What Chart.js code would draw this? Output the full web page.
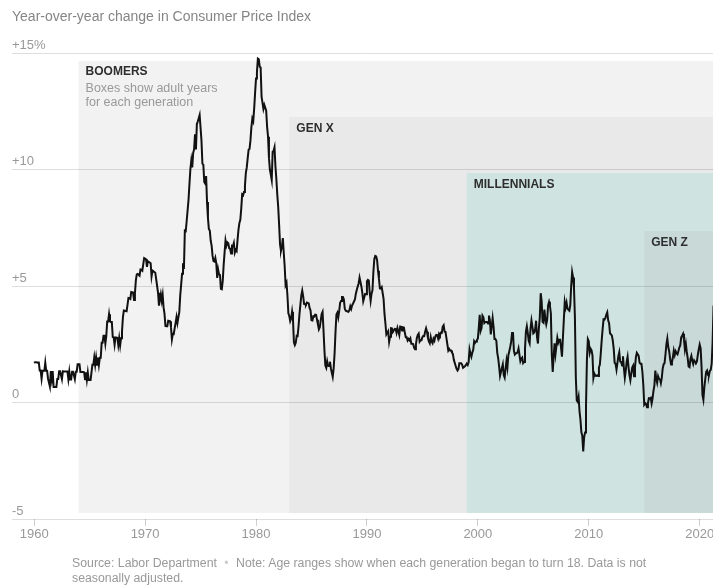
<!DOCTYPE html>
<html>
<head>
<meta charset="utf-8">
<script src="https://cdn.jsdelivr.net/npm/chart.js@4"></script>
<style>
  body { margin: 0; background: #fff; }
  #wrap { position: relative; width: 713px; height: 588px; overflow: hidden; }
  #cpi-chart { position: absolute; left: 0; top: 0; }
  .title { position: absolute; left: 12px; top: 8px; font: 14px "Liberation Sans", Arial, sans-serif; color: #858585; white-space: nowrap; }
  .note { position: absolute; left: 72px; top: 556px; font: 12.3px/15px "Liberation Sans", Arial, sans-serif; color: #999; white-space: nowrap; }
  .note .dot { color: #ccc; padding: 0 4px; }
</style>
</head>
<body>
<div id="wrap">
  <canvas id="cpi-chart" width="713" height="588"></canvas>
  <div class="title">Year-over-year change in Consumer Price Index</div>
  <div class="note">Source: Labor Department <span class="dot">•</span> Note: Age ranges show when each generation began to turn 18. Data is not<br>seasonally adjusted.</div>
</div>
<script>
// Monthly year-over-year CPI change (%), starting January 1960
const startYear = 1960;
const cpi1960s = [
  1.7, 1.73, 1.73, 1.72, 1.72, 1.72, 1.37, 1.37, 1.02, 1.36, 1.36, 1.36,
  1.71, 1.36, 1.36, 1.02, 1.02, 0.68, 1.35, 1.01, 1.35, 0.67, 0.67, 0.67,
  0.67, 1.01, 1.01, 1.34, 1.34, 1.34, 1.0, 1.34, 1.33, 1.33, 1.33, 1.33,
  1.33, 1.0, 1.33, 0.99, 0.99, 1.32, 1.32, 1.32, 1.0, 1.32, 1.32, 1.64,
  1.64, 1.64, 1.31, 1.31, 1.31, 1.31, 1.3, 1.0, 1.3, 0.97, 1.29, 0.97,
  0.97, 0.97, 1.29, 1.62, 1.62, 1.94, 1.62, 1.94, 1.62, 1.93, 1.61, 1.92,
  1.92, 2.56, 2.56, 2.87, 2.87, 2.53, 2.85, 3.48, 3.48, 3.79, 3.48, 3.46,
  3.46, 2.81, 2.8, 2.48, 2.79, 2.79, 2.77, 2.46, 2.77, 2.45, 2.76, 3.04,
  3.65, 3.95, 3.94, 3.93, 3.92, 4.2, 4.49, 4.48, 4.45, 4.74, 4.73, 4.72,
  4.4, 4.7, 5.24, 5.5, 5.52, 5.48, 5.44, 5.71, 5.7, 5.66, 5.93, 6.2
];
const cpi1970s = [
  6.18, 6.15, 5.82, 6.06, 6.04, 6.01, 5.98, 5.41, 5.66, 5.63, 5.6, 5.57,
  5.29, 5.0, 4.71, 4.16, 4.4, 4.64, 4.36, 4.62, 4.08, 3.8, 3.28, 3.27,
  3.27, 3.51, 3.5, 3.49, 3.23, 2.71, 2.95, 2.94, 3.19, 3.42, 3.67, 3.41,
  3.65, 3.88, 4.59, 5.06, 5.53, 5.98, 5.73, 7.38, 7.36, 7.8, 8.25, 8.71,
  9.39, 10.02, 10.39, 10.09, 10.71, 10.86, 11.51, 10.86, 11.95, 12.06, 12.2, 12.34,
  11.8, 11.23, 10.25, 10.21, 9.47, 9.4, 9.72, 8.6, 7.91, 7.44, 7.38, 6.94,
  6.72, 6.29, 6.07, 6.05, 6.2, 5.97, 5.35, 5.71, 5.5, 5.48, 4.88, 4.86,
  5.22, 5.91, 6.44, 6.95, 6.73, 6.87, 6.83, 6.62, 6.6, 6.39, 6.72, 6.7,
  6.84, 6.43, 6.55, 6.5, 6.97, 7.41, 7.7, 7.84, 8.31, 8.93, 8.89, 9.03,
  9.28, 9.86, 10.09, 10.49, 10.85, 10.89, 11.26, 11.82, 12.18, 12.07, 12.61, 13.29
];
const cpi1980s = [
  13.91, 14.18, 14.76, 14.73, 14.41, 14.38, 13.13, 12.87, 12.6, 12.77, 12.65, 12.52,
  11.83, 11.41, 10.49, 10.0, 9.78, 9.55, 10.76, 10.8, 10.95, 10.14, 9.59, 8.92,
  8.39, 7.62, 6.78, 6.51, 6.68, 7.06, 6.44, 5.85, 5.04, 5.14, 4.59, 3.83,
  3.71, 3.49, 3.6, 3.9, 3.55, 2.58, 2.46, 2.56, 2.86, 2.85, 3.27, 3.79,
  4.19, 4.6, 4.8, 4.56, 4.23, 4.22, 4.2, 4.29, 4.27, 4.26, 4.05, 3.95,
  3.53, 3.52, 3.7, 3.69, 3.77, 3.76, 3.55, 3.35, 3.14, 3.23, 3.51, 3.8,
  3.89, 3.11, 2.26, 1.59, 1.49, 1.77, 1.58, 1.57, 1.75, 1.47, 1.28, 1.1,
  1.46, 2.1, 3.03, 3.78, 3.86, 3.65, 3.93, 4.28, 4.36, 4.53, 4.53, 4.43,
  4.03, 3.94, 3.93, 3.9, 3.89, 3.96, 4.13, 4.02, 4.17, 4.25, 4.25, 4.42,
  4.67, 4.83, 4.98, 5.11, 5.36, 5.17, 4.98, 4.71, 4.34, 4.49, 4.66, 4.65
];
const cpi1990s = [
  5.2, 5.26, 5.23, 4.71, 4.36, 4.67, 4.82, 5.62, 6.16, 6.29, 6.27, 6.11,
  5.65, 5.31, 4.9, 4.89, 4.95, 4.7, 4.45, 3.8, 3.39, 2.92, 2.99, 3.06,
  2.6, 2.82, 3.19, 3.18, 3.02, 3.09, 3.16, 3.15, 2.99, 3.2, 3.05, 2.9,
  3.26, 3.25, 3.09, 3.23, 3.22, 3.0, 2.8, 2.8, 2.66, 2.73, 2.67, 2.75,
  2.52, 2.52, 2.51, 2.36, 2.29, 2.49, 2.77, 2.9, 2.96, 2.61, 2.67, 2.67,
  2.8, 2.86, 2.85, 3.05, 3.19, 3.04, 2.76, 2.62, 2.54, 2.81, 2.61, 2.54,
  2.73, 2.65, 2.84, 2.9, 2.89, 2.75, 2.95, 2.88, 3.0, 2.99, 3.26, 3.32,
  3.04, 3.03, 2.76, 2.5, 2.23, 2.3, 2.23, 2.23, 2.15, 2.08, 1.83, 1.7,
  1.57, 1.44, 1.37, 1.44, 1.69, 1.68, 1.68, 1.62, 1.49, 1.49, 1.55, 1.61,
  1.67, 1.61, 1.73, 2.28, 2.09, 1.96, 2.14, 2.26, 2.63, 2.56, 2.62, 2.68
];
const cpi2000s = [
  2.74, 3.22, 3.76, 3.07, 3.19, 3.73, 3.66, 3.41, 3.45, 3.45, 3.45, 3.39,
  3.73, 3.53, 2.92, 3.27, 3.62, 3.25, 2.72, 2.72, 2.65, 2.13, 1.9, 1.55,
  1.14, 1.14, 1.48, 1.64, 1.18, 1.07, 1.46, 1.8, 1.51, 2.03, 2.2, 2.38,
  2.6, 2.98, 3.02, 2.22, 2.06, 2.11, 2.11, 2.16, 2.32, 2.04, 1.77, 1.88,
  1.93, 1.69, 1.74, 2.29, 3.05, 3.27, 2.99, 2.65, 2.54, 3.19, 3.52, 3.26,
  2.97, 3.01, 3.15, 3.51, 2.8, 2.53, 3.17, 3.64, 4.69, 4.35, 3.46, 3.42,
  3.99, 3.6, 3.36, 3.55, 4.17, 4.32, 4.15, 3.82, 2.06, 1.31, 1.97, 2.54,
  2.08, 2.42, 2.78, 2.57, 2.69, 2.69, 2.36, 1.97, 2.76, 3.54, 4.31, 4.08,
  4.28, 4.03, 3.98, 3.94, 4.18, 5.02, 5.6, 5.37, 4.94, 3.66, 1.07, 0.09,
  0.03, 0.24, -0.38, -0.74, -1.28, -1.43, -2.1, -1.48, -1.29, -0.18, 1.84, 2.72
];
const cpi2010s = [
  2.63, 2.14, 2.31, 2.24, 2.02, 1.05, 1.24, 1.15, 1.14, 1.17, 1.14, 1.5,
  1.63, 2.11, 2.68, 3.16, 3.57, 3.56, 3.63, 3.77, 3.87, 3.53, 3.39, 2.96,
  2.93, 2.87, 2.65, 2.3, 1.7, 1.66, 1.41, 1.69, 1.99, 2.16, 1.76, 1.74,
  1.59, 1.98, 1.47, 1.06, 1.36, 1.75, 1.96, 1.52, 1.18, 0.96, 1.24, 1.5,
  1.58, 1.13, 1.51, 1.95, 2.13, 2.07, 1.99, 1.7, 1.66, 1.66, 1.32, 0.76,
  -0.09, -0.03, -0.07, -0.2, -0.04, 0.18, 0.17, 0.2, -0.04, 0.17, 0.5, 0.73,
  1.37, 1.02, 0.85, 1.13, 1.02, 1.01, 0.83, 1.06, 1.46, 1.64, 1.69, 2.07,
  2.5, 2.74, 2.38, 2.2, 1.87, 1.63, 1.73, 1.94, 2.23, 2.04, 2.2, 2.11,
  2.07, 2.21, 2.36, 2.46, 2.8, 2.87, 2.95, 2.7, 2.28, 2.52, 2.18, 1.91,
  1.55, 1.52, 1.86, 2.0, 1.79, 1.65, 1.81, 1.75, 1.71, 1.76, 2.05, 2.29
];
const cpi2020s = [
  2.49, 2.33, 1.54, 0.33, 0.12, 0.65, 0.99, 1.31, 1.37, 1.18, 1.17, 1.36,
  1.4, 1.68, 2.62, 4.16, 4.99
];

// Generation boxes: first year each generation turned 18, and box top (in % units)
const genNames = ['BOOMERS', 'GEN X', 'MILLENNIALS', 'GEN Z'];
const genStart = [1964, 1983, 1999, 2015];
const genTop = [14.66, 12.25, 9.85, 7.36];
const genBottom = -4.74;
const genColors = ['#f2f2f2', '#e9e9e9', '#cfe4e0', '#c9d9d8'];

const xTicks = [1960, 1970, 1980, 1990, 2000, 2010, 2020];
const yTicks = [-5, 0, 5, 10, 15];
const yTickLabels = ['-5', '0', '+5', '+10', '+15%'];

const fontFamily = '"Liberation Sans", Arial, sans-serif';

const allValues = [].concat(cpi1960s, cpi1970s, cpi1980s, cpi1990s, cpi2000s, cpi2010s, cpi2020s);
const points = allValues.map((v, i) => ({ x: startYear + i / 12, y: v }));

// Draws the generation boxes under the grid lines
const generationBoxes = {
    id: 'generationBoxes',
    beforeDraw(chart) {
        const { ctx, chartArea, scales } = chart;
        const yBottom = scales.y.getPixelForValue(genBottom);
        ctx.save();
        genStart.forEach((year, i) => {
            const left = scales.x.getPixelForValue(year);
            const top = scales.y.getPixelForValue(genTop[i]);
            ctx.fillStyle = genColors[i];
            ctx.fillRect(left, top, chartArea.right - left, yBottom - top);
        });
        ctx.textBaseline = 'middle';
        ctx.textAlign = 'left';
        genStart.forEach((year, i) => {
            const left = scales.x.getPixelForValue(year);
            const top = scales.y.getPixelForValue(genTop[i]);
            ctx.fillStyle = '#2e2e2e';
            ctx.font = 'bold 12px ' + fontFamily;
            ctx.fillText(genNames[i], left + 7, top + (i === 0 ? 11 : 12));
            if (i === 0) {
                ctx.fillStyle = '#999';
                ctx.font = '12.5px ' + fontFamily;
                ctx.fillText('Boxes show adult years', left + 7, top + 28);
                ctx.fillText('for each generation', left + 7, top + 42);
            }
        });
        ctx.restore();
    }
};

const ctx = document.getElementById('cpi-chart').getContext('2d');
new Chart(ctx, {
    type: 'line',
    data: {
        datasets: [{
            data: points,
            borderColor: '#111',
            borderWidth: 2,
            pointRadius: 0,
            tension: 0
        }]
    },
    options: {
        responsive: false,
        animation: false,
        layout: { padding: { left: 12, top: 53, right: 0, bottom: 0 } },
        plugins: {
            legend: { display: false },
            tooltip: { enabled: false }
        },
        scales: {
            x: {
                type: 'linear',
                min: 1958,
                max: 2021.2,
                afterBuildTicks: scale => { scale.ticks = xTicks.map(v => ({ value: v })); },
                afterFit: scale => { scale.height = 69; scale.paddingLeft = 0; scale.paddingRight = 0; },
                grid: { drawOnChartArea: false, drawTicks: true, tickLength: 7, color: '#cfcfcf' },
                border: { display: false },
                ticks: {
                    autoSkip: false,
                    maxRotation: 0,
                    padding: 1,
                    color: '#999',
                    font: { family: fontFamily, size: 13 },
                    callback: v => String(v)
                }
            },
            y: {
                min: -5,
                max: 15,
                afterBuildTicks: scale => { scale.ticks = yTicks.map(v => ({ value: v })); },
                afterFit: scale => { scale.width = 0; },
                grid: { color: 'rgba(0,0,0,0.13)', drawTicks: false },
                border: { display: false },
                ticks: {
                    mirror: true,
                    padding: 0,
                    labelOffset: -8,
                    color: '#999',
                    font: { family: fontFamily, size: 13 },
                    callback: v => yTickLabels[yTicks.indexOf(v)]
                }
            }
        }
    },
    plugins: [generationBoxes]
});
</script>
</body>
</html>
